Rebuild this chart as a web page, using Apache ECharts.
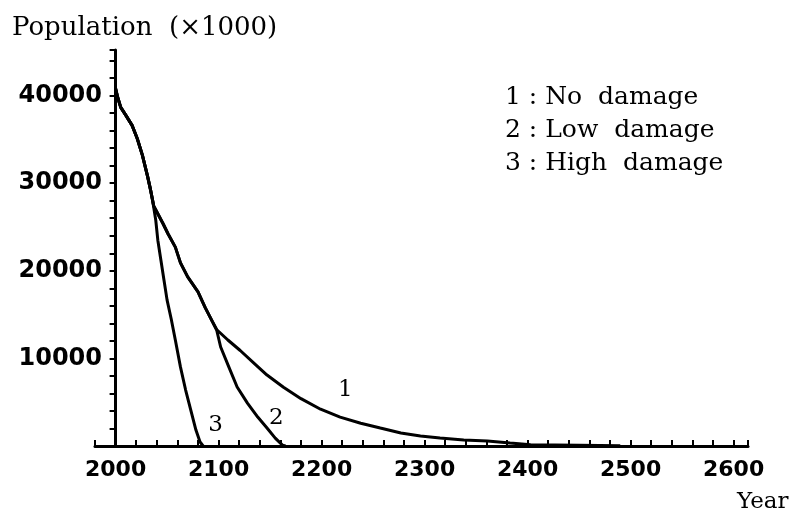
<!DOCTYPE html>
<html>
<head>
<meta charset="utf-8">
<script src="https://cdn.jsdelivr.net/npm/echarts@6/dist/echarts.min.js"></script>
<style>
  html, body { margin: 0; background: #fff; }
  #chart { width: 795px; height: 518px; }
</style>
</head>
<body>
<div id="chart"></div>
<script>
// years are shifted by BASE_YEAR so the y axis can sit on x = 0 (year 2000)
const BASE_YEAR = 2000

const yearsNoDamage = [2000, 2002, 2005, 2010, 2016, 2021, 2026, 2031, 2034, 2037, 2046, 2051, 2058, 2063, 2070, 2080, 2087, 2094, 2098,
  2109, 2121, 2134, 2147, 2163, 2180, 2199, 2218, 2238, 2257, 2277, 2296, 2315, 2338, 2361, 2383, 2403, 2450, 2490]
const popNoDamage = [40800, 39800, 38650, 37740, 36600, 35100, 33200, 30800, 29200, 27400, 25400, 24200, 22700, 20900, 19300, 17600, 15800, 14200, 13300,
  12100, 10900, 9500, 8100, 6700, 5400, 4200, 3300, 2600, 2050, 1480, 1140, 910, 680, 570, 340, 150, 80, 20]

const yearsLowDamage = [2000, 2002, 2005, 2010, 2016, 2021, 2026, 2031, 2034, 2037, 2046, 2051, 2058, 2063, 2070, 2080, 2087, 2094, 2098,
  2102, 2110, 2118, 2128, 2138, 2147, 2155, 2162, 2165]
const popLowDamage = [40800, 39800, 38650, 37740, 36600, 35100, 33200, 30800, 29200, 27400, 25400, 24200, 22700, 20900, 19300, 17600, 15800, 14200, 13300,
  11300, 9000, 6730, 4900, 3300, 2050, 900, 100, 0]

const yearsHighDamage = [2000, 2002, 2005, 2010, 2016, 2021, 2026, 2031, 2034, 2036, 2039, 2041, 2044, 2047, 2050, 2054, 2058, 2063, 2068, 2073, 2078, 2082, 2085]
const popHighDamage = [40800, 39800, 38650, 37740, 36600, 35100, 33200, 30800, 29200, 28000, 25770, 23490, 21210, 18930, 16650, 14500, 12090, 9000, 6390, 4100, 1820, 460, 0]

const curveNames = ['1', '2', '3']
const curveLabelYears = [2223, 2156, 2097]
const curveLabelPops = [6390, 3200, 2400]
const legendLines = ['1 : No  damage', '2 : Low  damage', '3 : High  damage']

const toPoints = (years, pops) => years.map((y, i) => [y - BASE_YEAR, pops[i]])

const serif = 'DejaVu Serif'
const tickFont = {fontFamily: 'DejaVu Sans', fontWeight: 'bold', color: '#000'}
const ink = '#000'

const lineSeries = (data, idx) => ({
  type: 'line',
  data,
  symbol: 'none',
  silent: true,
  lineStyle: {color: ink, width: 3},
  markPoint: {
    symbol: 'circle',
    symbolSize: 0,
    silent: true,
    label: {show: true, formatter: '{b}', fontFamily: serif, fontSize: 23, color: ink},
    data: [{name: curveNames[idx], coord: [curveLabelYears[idx] - BASE_YEAR, curveLabelPops[idx]]}],
  },
})

const chart = echarts.init(document.getElementById('chart'))
chart.setOption({
  animation: false,
  backgroundColor: '#fff',
  grid: {left: 95, right: 47, top: 50, bottom: 72},
  xAxis: {
    type: 'value',
    min: -20,
    max: 614,
    interval: 20,
    axisLine: {onZero: false, lineStyle: {color: ink, width: 3}},
    axisTick: {inside: true, length: 6, lineStyle: {color: ink, width: 2}},
    splitLine: {show: false},
    axisLabel: {
      ...tickFont,
      fontSize: 22,
      margin: 13,
      formatter: v => (v >= 0 && v % 100 === 0 ? String(v + BASE_YEAR) : ''),
    },
  },
  yAxis: {
    type: 'value',
    min: 0,
    max: 45200,
    interval: 2000,
    // axis sits on year 2000, but echarts keeps labels at the grid edge -> pull them back
    axisLine: {onZero: true, lineStyle: {color: ink, width: 3}},
    // on the zero line the tick direction comes out flipped, so "outside" points into the plot
    axisTick: {inside: false, length: 6, lineStyle: {color: ink, width: 2}},
    splitLine: {show: false},
    axisLabel: {
      ...tickFont,
      fontSize: 24,
      margin: -7,
      formatter: v => (v > 0 && v % 10000 === 0 ? String(v) : ''),
    },
  },
  graphic: [
    {
      type: 'text', left: 12, top: 15, silent: true,
      style: {text: 'Population  (×1000)', fontFamily: serif, fontSize: 26, fill: ink},
    },
    {
      type: 'text', left: 737, top: 491, silent: true,
      style: {text: 'Year', fontFamily: serif, fontSize: 23, fill: ink},
    },
    {
      type: 'text', left: 505, top: 81, silent: true,
      style: {text: legendLines.join('\n'), fontFamily: serif, fontSize: 25, lineHeight: 33, fill: ink},
    },
  ],
  series: [
    lineSeries(toPoints(yearsNoDamage, popNoDamage), 0),
    lineSeries(toPoints(yearsLowDamage, popLowDamage), 1),
    lineSeries(toPoints(yearsHighDamage, popHighDamage), 2),
  ],
})
</script>
</body>
</html>
